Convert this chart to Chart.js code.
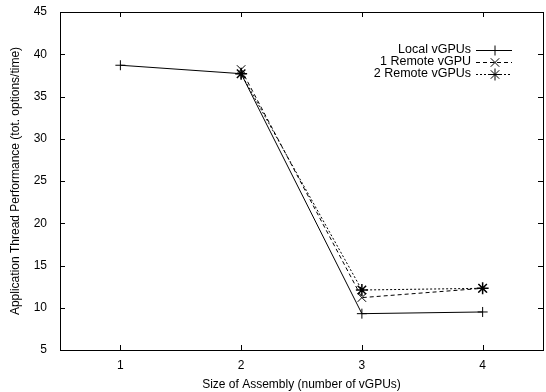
<!DOCTYPE html>
<html>
<head>
<meta charset="utf-8">
<script src="https://cdn.jsdelivr.net/npm/chart.js@4/dist/chart.umd.min.js"></script>
<style>
  html, body { margin: 0; padding: 0; background: #fff; }
  #wrap { width: 546px; height: 392px; }
</style>
</head>
<body>
<div id="wrap"><canvas id="perfChart" width="546" height="392"></canvas></div>
<script>
// values
const sizes = [1, 2, 3, 4];
const localVGPUs = [38.7, 37.7, 9.3, 9.5];
const oneRemote = [null, 38.2, 11.2, 12.3];
const twoRemote = [null, 37.7, 12.1, 12.3];
const yTicks = [5, 10, 15, 20, 25, 30, 35, 40, 45];

const FONT = "'Liberation Sans', Arial, sans-serif";

function toPoints(vals) {
  const pts = [];
  vals.forEach((v, i) => {
    if (v !== null) pts.push({ x: sizes[i], y: v });
  });
  return pts;
}

// gnuplot-like frame with inward ticks on all four sides + key in top right
const framePlugin = {
  id: "frame",
  afterDraw(chart) {
    const ctx = chart.ctx;
    const a = chart.chartArea;
    const xs = chart.scales.x;
    const ys = chart.scales.y;
    ctx.save();
    ctx.strokeStyle = "#000";
    ctx.lineWidth = 1;
    ctx.setLineDash([]);
    ctx.strokeRect(a.left + 0.5, a.top + 0.5, a.right - a.left, a.bottom - a.top);
    ctx.beginPath();
    sizes.forEach((v) => {
      const px = Math.round(xs.getPixelForValue(v)) + 0.5;
      ctx.moveTo(px, a.bottom); ctx.lineTo(px, a.bottom - 5);
      ctx.moveTo(px, a.top); ctx.lineTo(px, a.top + 5);
    });
    yTicks.forEach((v) => {
      const py = Math.round(ys.getPixelForValue(v)) + 0.5;
      ctx.moveTo(a.left, py); ctx.lineTo(a.left + 5, py);
      ctx.moveTo(a.right, py); ctx.lineTo(a.right - 5, py);
    });
    ctx.stroke();

    // key
    ctx.font = "12.5px " + FONT;
    ctx.fillStyle = "#000";
    ctx.textAlign = "right";
    ctx.textBaseline = "middle";
    chart.data.datasets.forEach((ds, i) => {
      const y = 50 + i * 12;
      ctx.fillText(ds.label, 471, y);
      ctx.beginPath();
      ctx.setLineDash(ds.borderDash || []);
      ctx.moveTo(476, y + 0.5);
      ctx.lineTo(512, y + 0.5);
      ctx.stroke();
      ctx.setLineDash([]);
      Chart.helpers.drawPoint(ctx, {
        pointStyle: ds.pointStyle,
        radius: ds.pointRadius,
        rotation: 0,
        borderWidth: 1
      }, 495, y + 0.5);
    });
    ctx.restore();
  }
};

const ctx = document.getElementById("perfChart").getContext("2d");
new Chart(ctx, {
  type: "line",
  data: {
    datasets: [
      {
        label: "Local vGPUs",
        data: toPoints(localVGPUs),
        borderColor: "#000",
        backgroundColor: "#000",
        borderWidth: 1,
        pointStyle: "cross",
        pointRadius: 5,
        pointBorderWidth: 1,
        fill: false
      },
      {
        label: "1 Remote vGPU",
        data: toPoints(oneRemote),
        borderColor: "#000",
        backgroundColor: "#000",
        borderWidth: 1,
        borderDash: [4, 3],
        pointStyle: "crossRot",
        pointRadius: 6,
        pointBorderWidth: 1,
        fill: false
      },
      {
        label: "2 Remote vGPUs",
        data: toPoints(twoRemote),
        borderColor: "#000",
        backgroundColor: "#000",
        borderWidth: 1,
        borderDash: [2, 2],
        pointStyle: "star",
        pointRadius: 6,
        pointBorderWidth: 1.5,
        fill: false
      }
    ]
  },
  options: {
    responsive: false,
    animation: false,
    layout: { autoPadding: false, padding: { top: 12, right: 3, left: 0, bottom: 0 } },
    plugins: {
      legend: { display: false },
      tooltip: { enabled: false }
    },
    scales: {
      x: {
        type: "linear",
        min: 0.5,
        max: 4.5,
        afterBuildTicks: (s) => { s.ticks = sizes.map((v) => ({ value: v })); },
        afterFit: (s) => { s.height = 42; s.paddingLeft = 0; s.paddingRight = 0; },
        grid: { display: false, drawTicks: false },
        border: { display: false },
        ticks: { color: "#000", font: { family: FONT, size: 12 }, padding: 8 },
        title: {
          display: true,
          text: "Size of Assembly (number of vGPUs)",
          color: "#000",
          font: { family: FONT, size: 12 },
          padding: { top: 1, bottom: 0 }
        }
      },
      y: {
        min: 5,
        max: 45,
        afterBuildTicks: (s) => { s.ticks = yTicks.map((v) => ({ value: v })); },
        afterFit: (s) => { s.width = 60; s.paddingTop = 0; s.paddingBottom = 0; },
        grid: { display: false, drawTicks: false },
        border: { display: false },
        ticks: { color: "#000", font: { family: FONT, size: 12 }, padding: 13 },
        title: {
          display: true,
          text: "Application Thread Performance (tot. options/time)",
          color: "#000",
          font: { family: FONT, size: 12 },
          padding: { top: 8, bottom: 0 }
        }
      }
    }
  },
  plugins: [framePlugin]
});
</script>
</body>
</html>
